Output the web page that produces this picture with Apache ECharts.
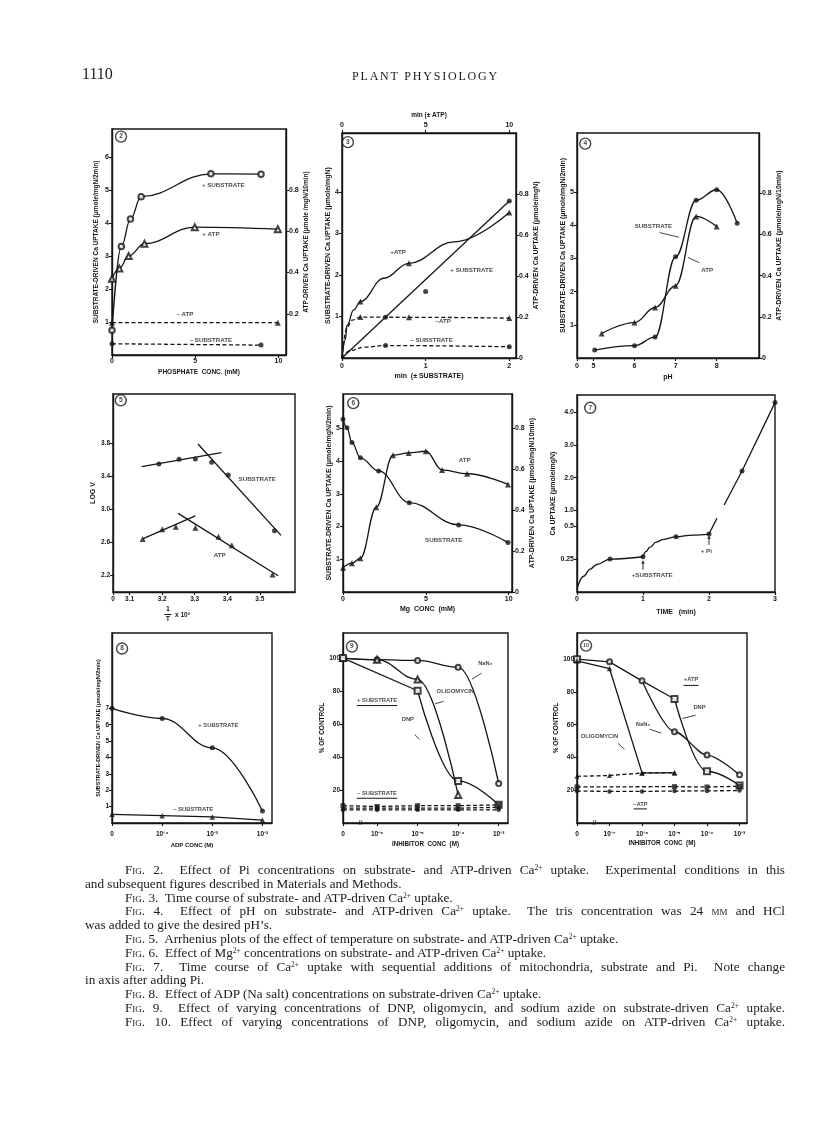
<!DOCTYPE html>
<html>
<head>
<meta charset="utf-8">
<title>Plant Physiology 1110 – Figs. 2–10</title>
<script src="https://cdn.jsdelivr.net/npm/echarts@6.0.0/dist/echarts.min.js"></script>
<style>
 html,body{margin:0;padding:0;background:#fff;}
 #page{position:relative;width:816px;height:1143px;overflow:hidden;background:#fff;}
 #chart{position:absolute;left:0;top:0;width:816px;height:1143px;}
 .serif{position:absolute;font-family:"Liberation Serif","DejaVu Serif",serif;color:#1a1a1a;white-space:nowrap;}
 #folio{left:82px;top:65px;font-size:16px;}
 #journal{left:0;width:851px;text-align:center;top:69px;font-size:12px;letter-spacing:1.8px;}
 .cl{position:absolute;left:85px;width:700px;font-family:"Liberation Serif","DejaVu Serif",serif;font-size:13.2px;line-height:13.8px;color:#1a1a1a;white-space:nowrap;}
 .cl.i{left:125px;width:660px;}
 .cl.j{white-space:normal;text-align:justify;text-align-last:justify;}
 .sc{font-variant:small-caps;}
 sup{font-size:7.5px;vertical-align:4px;line-height:0;}
</style>
</head>
<body>
<div id="page">
 <div id="chart"></div>
 <div id="folio" class="serif">1110</div>
 <div id="journal" class="serif">PLANT PHYSIOLOGY</div>
 <div id="captions"></div>
</div>
<script>
// ======================= DATA =======================
// Fig. 2 – Pi concentration (mM)
const f2PiSub      = [0, 0.56, 1.11, 1.75, 5.94, 8.95];
const f2SubPlus    = [0.75, 3.29, 4.12, 4.80, 5.49, 5.48];      // substrate-driven, μmole/mgN/2min
const f2PiAtp      = [0, 0.44, 1.0, 1.95, 4.97, 9.96];
const f2AtpPlus    = [0.37, 0.42, 0.48, 0.54, 0.62, 0.61];      // ATP-driven, μmole/mgN/10min
const f2PiAtpMinus = [0, 9.96];
const f2AtpMinus   = [0.157, 0.157];
const f2PiSubMinus = [0, 8.95];
const f2SubMinus   = [0.34, 0.30];
const f2XTicks = [0, 5, 10],            f2XLabels = ['0', '5', '10'];
const f2YTicks = [1, 2, 3, 4, 5, 6],    f2YLabels = ['1', '2', '3', '4', '5', '6'];
const f2Y2Ticks = [0.2, 0.4, 0.6, 0.8], f2Y2Labels = ['0.2', '0.4', '0.6', '0.8'];

// Fig. 3 – time course
const f3SubMin      = [0.52, 1.0, 2.0];
const f3SubPlus     = [0.98, 1.6, 3.78];
const f3SubFitMin   = [0, 2.0];
const f3SubFit      = [0, 3.78];
const f3AtpMin      = [1.1, 4.0, 10.0];
const f3AtpPlus     = [0.276, 0.463, 0.711];
const f3AtpCurveMin = [0, 0.2, 0.3, 0.7, 1.1, 2.5, 4.0, 6.7, 10.0];
const f3AtpCurve    = [0, 0.09, 0.16, 0.235, 0.276, 0.39, 0.463, 0.568, 0.711];
const f3AtpMinusMin = [1.1, 4.0, 10.0];
const f3AtpMinus    = [0.2, 0.199, 0.195];
const f3AtpMinusCurveMin = [0, 0.3, 0.6, 1.1, 4.0, 10.0];
const f3AtpMinusCurve    = [0, 0.15, 0.185, 0.2, 0.199, 0.195];
const f3SubMinusMin = [0.52, 2.0];
const f3SubMinus    = [0.30, 0.27];
const f3SubMinusCurveMin = [0, 0.1, 0.26, 0.52, 2.0];
const f3SubMinusCurve    = [0, 0.18, 0.26, 0.30, 0.27];
const f3XTicks = [0, 1, 2],  f3XLabels = ['0', '1', '2'];
const f3X2Ticks = [0, 5, 10], f3X2Labels = ['0', '5', '10'];
const f3YTicks = [1, 2, 3, 4], f3YLabels = ['1', '2', '3', '4'];
const f3Y2Ticks = [0, 0.2, 0.4, 0.6, 0.8], f3Y2Labels = ['0', '0.2', '0.4', '0.6', '0.8'];

// Fig. 4 – pH
const f4SubPH = [5.03, 6.0, 6.5, 7.0, 7.5, 8.0, 8.5];
const f4Sub   = [0.24, 0.37, 0.63, 3.05, 4.75, 5.07, 4.06];
const f4AtpPH = [5.2, 6.0, 6.5, 7.0, 7.5, 8.0];
const f4Atp   = [0.119, 0.172, 0.245, 0.351, 0.687, 0.638];
const f4XTicks = [4.6, 5, 6, 7, 8], f4XLabels = ['0', '5', '6', '7', '8'];
const f4YTicks = [1, 2, 3, 4, 5],   f4YLabels = ['1', '2', '3', '4', '5'];
const f4Y2Ticks = [0, 0.2, 0.4, 0.6, 0.8], f4Y2Labels = ['0', '0.2', '0.4', '0.6', '0.8'];

// Fig. 5 – Arrhenius (1/T x 10^3, log V)
const f5SubX = [3.19, 3.252, 3.302, 3.352, 3.403, 3.545];
const f5Sub  = [3.548, 3.605, 3.609, 3.568, 3.414, 2.736];
const f5SubFitA = [[3.137, 3.515], [3.382, 3.686]];
const f5SubFitB = [[3.31, 3.79], [3.565, 2.68]];
const f5AtpX = [3.14, 3.2, 3.242, 3.302, 3.373, 3.414, 3.539];
const f5Atp  = [2.638, 2.756, 2.785, 2.772, 2.663, 2.561, 2.204];
const f5AtpFitA = [[3.14, 2.638], [3.302, 2.918]];
const f5AtpFitB = [[3.249, 2.947], [3.556, 2.19]];
const f5XTicks = [3.049, 3.1, 3.2, 3.3, 3.4, 3.5], f5XLabels = ['0', '3.1', '3.2', '3.3', '3.4', '3.5'];
const f5YTicks = [2.2, 2.6, 3.0, 3.4, 3.8],        f5YLabels = ['2.2', '2.6', '3.0', '3.4', '3.8'];

// Fig. 6 – Mg conc (mM)
const f6SubMg = [0, 0.24, 0.54, 1.05, 2.15, 4.0, 6.98, 9.96];
const f6Sub   = [5.28, 5.02, 4.57, 4.10, 3.70, 2.73, 2.05, 1.51];
const f6AtpMg = [0, 0.54, 1.05, 2.01, 3.02, 3.96, 5.0, 5.98, 7.49, 9.96];
const f6Atp   = [0.118, 0.141, 0.165, 0.414, 0.669, 0.68, 0.688, 0.597, 0.578, 0.526];
const f6XTicks = [0, 5, 10], f6XLabels = ['0', '5', '10'];
const f6YTicks = [1, 2, 3, 4, 5], f6YLabels = ['1', '2', '3', '4', '5'];
const f6Y2Ticks = [0, 0.2, 0.4, 0.6, 0.8], f6Y2Labels = ['0', '0.2', '0.4', '0.6', '0.8'];

// Fig. 7 – time (min), Ca uptake (μmole/mgN); axis changes scale above 0.5
const f7PtT = [0.5, 1.0, 1.5, 2.0, 2.5, 3.0];
const f7PtV = [0.251, 0.269, 0.421, 0.442, 2.2, 4.3];
const f7CurveAT = [0, 0.1, 0.2, 0.3, 0.5, 1.0];
const f7CurveAV = [0.025, 0.12, 0.175, 0.21, 0.251, 0.269];
const f7CurveBT = [1.0, 1.05, 1.1, 1.2, 1.3, 1.5, 1.75, 2.0];
const f7CurveBV = [0.269, 0.31, 0.34, 0.38, 0.40, 0.421, 0.434, 0.442];
const f7CurveCT = [2.0, 2.12];
const f7CurveCV = [0.442, 0.75];
const f7CurveDT = [2.23, 2.5, 3.0];
const f7CurveDV = [1.16, 2.2, 4.3];
const f7XTicks = [0, 1, 2, 3], f7XLabels = ['0', '1', '2', '3'];
const f7YTicks = [0.25, 0.5, 1.0, 2.0, 3.0, 4.0], f7YLabels = ['0.25', '0.5', '1.0', '2.0', '3.0', '4.0'];

// Fig. 8 – ADP conc (M)
const f8Adp   = [0, 1e-4, 1e-3, 1e-2];
const f8Plus  = [7.0, 6.38, 4.59, 0.73];
const f8Minus = [0.53, 0.45, 0.37, 0.18];
const f8XTicks = [0, 1e-4, 1e-3, 1e-2], f8XLabels = ['0', '10⁻⁴', '10⁻³', '10⁻²'];
const f8YTicks = [1, 2, 3, 4, 5, 6, 7], f8YLabels = ['1', '2', '3', '4', '5', '6', '7'];

// Fig. 9 – inhibitor conc (M), % of control, + / – substrate
const f9Conc  = [0, 1e-6, 1e-5, 1e-4, 1e-3];
const f9NaN3  = [100, 99, 98.6, 94.5, 24];
const f9Oligo = [100, 99, 87, 17, null];
const f9Dnp   = [100, null, 80.2, 25.5, 11];
const f9MinusDnp   = [10.5, 10, 10.5, 10.5, 11];
const f9MinusOligo = [9, 9, 9, 9, 9.5];
const f9MinusNaN3  = [8, 8, 8, 8, 8];
const f9XTicks = [0, 1e-6, 1e-5, 1e-4, 1e-3], f9XLabels = ['0', '10⁻⁶', '10⁻⁵', '10⁻⁴', '10⁻³'];
const f9YTicks = [20, 40, 60, 80, 100], f9YLabels = ['20', '40', '60', '80', '100'];

// Fig. 10 – inhibitor conc (M), % of control, + / – ATP
const f10Conc  = [0, 1e-7, 1e-6, 1e-5, 1e-4, 1e-3];
const f10Dnp   = [100, 98.4, 86.8, 75.7, 31.6, 22.9];
const f10NaN3  = [100, 98.4, 86.8, 55.7, 41.5, 29.4];
const f10Oligo = [99, 94.3, 30.6, 30.6, null, null];
const f10MinusOligo = [28.5, 29, 30.5, 30.8, null, null];
const f10MinusDnp   = [22, null, null, 22.2, 22, 22.4];
const f10MinusNaN3  = [19.5, 19.3, 19.3, 19.5, 19.6, 19.8];
const f10XTicks = [0, 1e-7, 1e-6, 1e-5, 1e-4, 1e-3], f10XLabels = ['0', '10⁻⁷', '10⁻⁶', '10⁻⁵', '10⁻⁴', '10⁻³'];
const f10YTicks = [20, 40, 60, 80, 100], f10YLabels = ['20', '40', '60', '80', '100'];

// Captions
const captionLines = [
  ['ij', '<span class="sc">Fig.</span> 2.&nbsp; Effect of Pi concentrations on substrate- and ATP-driven Ca<sup>2+</sup> uptake.&nbsp; Experimental conditions in this'],
  ['',   'and subsequent figures described in Materials and Methods.'],
  ['i',  '<span class="sc">Fig.</span> 3.&nbsp; Time course of substrate- and ATP-driven Ca<sup>2+</sup> uptake.'],
  ['ij', '<span class="sc">Fig.</span> 4.&nbsp; Effect of pH on substrate- and ATP-driven Ca<sup>2+</sup> uptake.&nbsp; The tris concentration was 24 <span class="sc">mm</span> and HCl'],
  ['',   'was added to give the desired pH\u2019s.'],
  ['i',  '<span class="sc">Fig.</span> 5.&nbsp; Arrhenius plots of the effect of temperature on substrate- and ATP-driven Ca<sup>2+</sup> uptake.'],
  ['i',  '<span class="sc">Fig.</span> 6.&nbsp; Effect of Mg<sup>2+</sup> concentrations on substrate- and ATP-driven Ca<sup>2+</sup> uptake.'],
  ['ij', '<span class="sc">Fig.</span> 7.&nbsp; Time course of Ca<sup>2+</sup> uptake with sequential additions of mitochondria, substrate and Pi.&nbsp; Note change'],
  ['',   'in axis after adding Pi.'],
  ['i',  '<span class="sc">Fig.</span> 8.&nbsp; Effect of ADP (Na salt) concentrations on substrate-driven Ca<sup>2+</sup> uptake.'],
  ['ij', '<span class="sc">Fig.</span> 9.&nbsp; Effect of varying concentrations of DNP, oligomycin, and sodium azide on substrate-driven Ca<sup>2+</sup> uptake.'],
  ['ij', '<span class="sc">Fig.</span> 10. Effect of varying concentrations of DNP, oligomycin, and sodium azide on ATP-driven Ca<sup>2+</sup> uptake.']
];

// ======================= helpers =======================
const INK = '#151515';
const FONT = '"Liberation Sans", Arial, sans-serif';
const grids = [], xAxes = [], yAxes = [], series = [];

function zip(xs, ys, fx, fy) {
  const o = [];
  for (let i = 0; i < xs.length; i++) {
    if (xs[i] == null || ys[i] == null) continue;
    o.push([fx ? fx(xs[i]) : xs[i], fy ? fy(ys[i]) : ys[i]]);
  }
  return o;
}
function addGrid(b) {
  grids.push({left: b[0], top: b[1], width: b[2] - b[0], height: b[3] - b[1],
    show: true, borderColor: INK, borderWidth: 1.4, backgroundColor: 'transparent', containLabel: false});
  return grids.length - 1;
}
function addAxis(dim, g, o) {
  const isY = dim === 'y';
  const ticks = o.ticks || [];
  const labels = o.labels || [];
  const fmt = (v) => { const i = ticks.findIndex(t => Math.abs(t - v) < 1e-9 * Math.max(1, Math.abs(t))); return i >= 0 ? labels[i] : ''; };
  const a = {
    type: 'value', gridIndex: g, position: o.pos, min: o.min, max: o.max,
    axisLine: {show: true, onZero: false, lineStyle: {color: INK, width: 1.4}},
    axisTick: {show: ticks.length > 0, inside: false, length: 3, customValues: ticks, lineStyle: {color: INK, width: 1.1}},
    axisLabel: {show: ticks.length > 0, customValues: ticks, margin: o.margin != null ? o.margin : 3, formatter: fmt,
      color: INK, fontFamily: FONT, fontWeight: 'bold', fontSize: o.fs || 7},
    splitLine: {show: false},
    name: o.name || '', nameLocation: 'middle', nameGap: o.gap || 12, nameRotate: isY ? 90 : 0,
    nameTextStyle: {color: INK, fontFamily: FONT, fontWeight: 'bold', fontSize: o.nfs || 6.5}
  };
  const list = isY ? yAxes : xAxes;
  list.push(a);
  return list.length - 1;
}
function lineS(xi, yi, pts, o) {
  o = o || {};
  series.push({type: 'line', xAxisIndex: xi, yAxisIndex: yi, data: pts, symbol: 'none', showSymbol: false,
    smooth: o.smooth || false, smoothMonotone: o.smooth ? 'x' : undefined,
    lineStyle: {color: INK, width: o.w || 1.3, type: o.dash ? [4, 2.5] : 'solid'},
    silent: true, animation: false, z: 2, clip: false});
}
function markS(xi, yi, pts, sym, size) {
  const empty = sym.indexOf('empty') === 0;
  series.push({type: 'scatter', xAxisIndex: xi, yAxisIndex: yi, data: pts, symbol: sym, symbolSize: size || 5,
    itemStyle: {color: INK, borderColor: INK, borderWidth: empty ? 1.2 : 0},
    silent: true, animation: false, z: 4, clip: false});
}
function noteS(xi, yi, notes, fs) {
  series.push({type: 'scatter', xAxisIndex: xi, yAxisIndex: yi, symbolSize: 1, itemStyle: {color: 'rgba(0,0,0,0)'},
    data: notes.map(n => ({value: [n[1], n[2]], label: {show: true, position: 'inside', formatter: n[0],
      color: INK, fontFamily: FONT, fontWeight: 'bold', fontSize: n[3] || fs || 6.2}})),
    silent: true, animation: false, z: 5, clip: false});
}
function badge(xi, yi, num, x, y) {
  series.push({type: 'scatter', xAxisIndex: xi, yAxisIndex: yi, symbol: 'circle', symbolSize: 11, data: [[x, y]],
    itemStyle: {color: '#fff', borderColor: INK, borderWidth: 1.4},
    label: {show: true, position: 'inside', formatter: String(num), color: INK, fontFamily: FONT, fontWeight: 'bold', fontSize: num >= 10 ? 5.5 : 6.5},
    silent: true, animation: false, z: 6, clip: false});
}

// ======================= Fig. 2 =======================
{
  const g = addGrid([112, 129, 286, 355]);
  const x = addAxis('x', g, {pos: 'bottom', min: 0, max: 10.45, ticks: f2XTicks, labels: f2XLabels, name: 'PHOSPHATE  CONC. (mM)', gap: 14, margin: 3});
  const y = addAxis('y', g, {pos: 'left', min: 0, max: 6.85, ticks: f2YTicks, labels: f2YLabels, name: 'SUBSTRATE-DRIVEN Ca UPTAKE (μmole/mgN/2min)', gap: 12});
  const y2 = addAxis('y', g, {pos: 'right', min: 0, max: 1.096, ticks: f2Y2Ticks, labels: f2Y2Labels, name: 'ATP-DRIVEN Ca UPTAKE (μmole /mgN/10min)', gap: 15});
  lineS(x, y, zip(f2PiSub, f2SubPlus), {smooth: 0.4});
  markS(x, y, zip(f2PiSub, f2SubPlus), 'emptyCircle', 5.5);
  lineS(x, y2, zip(f2PiAtp, f2AtpPlus), {smooth: 0.4});
  markS(x, y2, zip(f2PiAtp, f2AtpPlus), 'emptyTriangle', 6);
  lineS(x, y2, zip(f2PiAtpMinus, f2AtpMinus), {dash: true});
  markS(x, y2, zip(f2PiAtpMinus, f2AtpMinus), 'triangle', 6);
  lineS(x, y, zip(f2PiSubMinus, f2SubMinus), {dash: true});
  markS(x, y, zip(f2PiSubMinus, f2SubMinus), 'circle', 5);
  noteS(x, y, [['+ SUBSTRATE', 6.68, 5.14], ['+ ATP', 5.94, 3.67], ['– ATP', 4.37, 1.23], ['– SUBSTRATE', 5.94, 0.45]]);
  badge(x, y, 2, 0.54, 6.62);
}
// ======================= Fig. 3 =======================
{
  const g = addGrid([342, 133, 516, 358]);
  const x = addAxis('x', g, {pos: 'bottom', min: 0, max: 2.08, ticks: f3XTicks, labels: f3XLabels, name: 'min  (± SUBSTRATE)', gap: 15, margin: 5, nfs: 7});
  const x2 = addAxis('x', g, {pos: 'top', min: 0, max: 10.4, ticks: f3X2Ticks, labels: f3X2Labels, name: 'min (± ATP)', gap: 14, margin: 4, nfs: 6.5});
  const y = addAxis('y', g, {pos: 'left', min: 0, max: 5.42, ticks: f3YTicks, labels: f3YLabels, name: 'SUBSTRATE-DRIVEN Ca UPTAKE (μmole/mgN)', gap: 10, nfs: 7});
  const y2 = addAxis('y', g, {pos: 'right', min: 0, max: 1.1, ticks: f3Y2Ticks, labels: f3Y2Labels, name: 'ATP-DRIVEN Ca UPTAKE (μmole/mgN)', gap: 15, nfs: 7});
  lineS(x, y, zip(f3SubFitMin, f3SubFit));
  markS(x, y, zip(f3SubMin, f3SubPlus), 'circle', 5);
  lineS(x2, y2, zip(f3AtpCurveMin, f3AtpCurve), {smooth: 0.4});
  markS(x2, y2, zip(f3AtpMin, f3AtpPlus), 'triangle', 6);
  lineS(x2, y2, zip(f3AtpMinusCurveMin, f3AtpMinusCurve), {smooth: 0.4, dash: true});
  markS(x2, y2, zip(f3AtpMinusMin, f3AtpMinus), 'triangle', 6);
  lineS(x, y, zip(f3SubMinusCurveMin, f3SubMinusCurve), {smooth: 0.4, dash: true});
  markS(x, y, zip(f3SubMinusMin, f3SubMinus), 'circle', 5);
  noteS(x, y, [['+ATP', 0.67, 2.54], ['+ SUBSTRATE', 1.55, 2.12], ['–ATP', 1.21, 0.88], ['– SUBSTRATE', 1.07, 0.42]]);
  badge(x, y, 3, 0.07, 5.2);
}
// ======================= Fig. 4 =======================
{
  const g = addGrid([577, 133, 759, 358]);
  const x = addAxis('x', g, {pos: 'bottom', min: 4.6, max: 9.03, ticks: f4XTicks, labels: f4XLabels, name: 'pH', gap: 16, margin: 5, nfs: 7});
  const y = addAxis('y', g, {pos: 'left', min: 0, max: 6.78, ticks: f4YTicks, labels: f4YLabels, name: 'SUBSTRATE-DRIVEN Ca UPTAKE (μmole/mgN/2min)', gap: 10, nfs: 7});
  const y2 = addAxis('y', g, {pos: 'right', min: 0, max: 1.092, ticks: f4Y2Ticks, labels: f4Y2Labels, name: 'ATP-DRIVEN Ca UPTAKE (μmole/mgN/10min)', gap: 15, nfs: 7});
  lineS(x, y, zip(f4SubPH, f4Sub), {smooth: 0.4});
  markS(x, y, zip(f4SubPH, f4Sub), 'circle', 5);
  lineS(x, y2, zip(f4AtpPH, f4Atp), {smooth: 0.4});
  markS(x, y2, zip(f4AtpPH, f4Atp), 'triangle', 6);
  noteS(x, y, [['SUBSTRATE', 6.46, 3.98], ['ATP', 7.77, 2.65]]);
  lineS(x, y, [[6.61, 3.78], [7.08, 3.64]], {w: 0.8});
  lineS(x, y, [[7.3, 3.03], [7.58, 2.87]], {w: 0.8});
  badge(x, y, 4, 4.8, 6.46);
}
// ======================= Fig. 5 =======================
{
  const g = addGrid([113, 394, 295, 592]);
  const x = addAxis('x', g, {pos: 'bottom', min: 3.049, max: 3.608, ticks: f5XTicks, labels: f5XLabels, margin: 4, fs: 6.5});
  const y = addAxis('y', g, {pos: 'left', min: 1.993, max: 4.397, ticks: f5YTicks, labels: f5YLabels, name: 'LOG V', gap: 16, fs: 6.5, nfs: 7});
  lineS(x, y, f5SubFitA); lineS(x, y, f5SubFitB);
  markS(x, y, zip(f5SubX, f5Sub), 'circle', 5);
  lineS(x, y, f5AtpFitA); lineS(x, y, f5AtpFitB);
  markS(x, y, zip(f5AtpX, f5Atp), 'triangle', 6);
  noteS(x, y, [['SUBSTRATE', 3.492, 3.365], ['ATP', 3.377, 2.44]]);
  badge(x, y, 5, 3.073, 4.32);
}
// ======================= Fig. 6 =======================
{
  const g = addGrid([343, 394, 512, 592]);
  const x = addAxis('x', g, {pos: 'bottom', min: 0, max: 10.2, ticks: f6XTicks, labels: f6XLabels, name: 'Mg  CONC  (mM)', gap: 14, margin: 4, nfs: 7});
  const y = addAxis('y', g, {pos: 'left', min: 0, max: 6.05, ticks: f6YTicks, labels: f6YLabels, name: 'SUBSTRATE-DRIVEN Ca UPTAKE (μmole/mgN/2min)', gap: 10, nfs: 7});
  const y2 = addAxis('y', g, {pos: 'right', min: 0, max: 0.968, ticks: f6Y2Ticks, labels: f6Y2Labels, name: 'ATP-DRIVEN Ca UPTAKE (μmole/mgN/10min)', gap: 15, nfs: 7});
  lineS(x, y, zip(f6SubMg, f6Sub), {smooth: 0.4});
  markS(x, y, zip(f6SubMg, f6Sub), 'circle', 5);
  lineS(x, y2, zip(f6AtpMg, f6Atp), {smooth: 0.4});
  markS(x, y2, zip(f6AtpMg, f6Atp), 'triangle', 6);
  noteS(x, y, [['ATP', 7.34, 4.03], ['SUBSTRATE', 6.08, 1.59]]);
  badge(x, y, 6, 0.62, 5.77);
}
// ======================= Fig. 7 (broken y scale above 0.5) =======================
{
  const f7u = v => v <= 0.5 ? v : 0.5 + (v - 0.5) * 0.2487;
  const g = addGrid([577, 395, 775, 592]);
  const x = addAxis('x', g, {pos: 'bottom', min: 0, max: 3.0, ticks: f7XTicks, labels: f7XLabels, name: 'TIME   (min)', gap: 17, margin: 4, nfs: 7});
  const y = addAxis('y', g, {pos: 'left', min: 0, max: 1.503, ticks: f7YTicks.map(f7u), labels: f7YLabels, name: 'Ca UPTAKE (μmole/mgN)', gap: 18, nfs: 7});
  lineS(x, y, zip(f7CurveAT, f7CurveAV, null, f7u), {smooth: 0.4});
  lineS(x, y, zip(f7CurveBT, f7CurveBV, null, f7u), {smooth: 0.4});
  lineS(x, y, zip(f7CurveCT, f7CurveCV, null, f7u));
  lineS(x, y, zip(f7CurveDT, f7CurveDV, null, f7u));
  markS(x, y, zip(f7PtT, f7PtV, null, f7u), 'circle', 5);
  lineS(x, y, [[1.0, f7u(0.17)], [1.0, f7u(0.234)]], {w: 0.9});
  lineS(x, y, [[2.0, f7u(0.36)], [2.0, f7u(0.424)]], {w: 0.9});
  markS(x, y, [[1.0, f7u(0.228)], [2.0, f7u(0.418)]], 'triangle', 3.5);
  noteS(x, y, [['+SUBSTRATE', 1.14, f7u(0.127)], ['+ Pi', 1.96, f7u(0.31)]]);
  badge(x, y, 7, 0.2, f7u(4.14));
}
// ======================= Fig. 8 =======================
{
  const p8 = c => c === 0 ? 0 : Math.log10(c) + 5;
  const g = addGrid([112, 633, 272, 823]);
  const x = addAxis('x', g, {pos: 'bottom', min: 0, max: 3.19, ticks: f8XTicks.map(p8), labels: f8XLabels, name: 'ADP CONC (M)', gap: 19, margin: 8, fs: 6.5, nfs: 6});
  const y = addAxis('y', g, {pos: 'left', min: 0, max: 11.6, ticks: f8YTicks, labels: f8YLabels, name: 'SUBSTRATE-DRIVEN Ca UPTAKE (μmole/mgN/2min)', gap: 9, fs: 6.5, nfs: 5.5});
  lineS(x, y, zip(f8Adp, f8Plus, p8), {smooth: 0.4});
  markS(x, y, zip(f8Adp, f8Plus, p8), 'circle', 5);
  lineS(x, y, zip(f8Adp, f8Minus, p8));
  markS(x, y, zip(f8Adp, f8Minus, p8), 'triangle', 5.5);
  noteS(x, y, [['+ SUBSTRATE', 2.12, 5.94], ['– SUBSTRATE', 1.62, 0.83]], 5.8);
  badge(x, y, 8, 0.2, 10.65);
}
// ======================= Fig. 9 =======================
{
  const p9 = c => c === 0 ? 0.16 : Math.log10(c) + 7;
  const g = addGrid([343, 633, 508, 823]);
  const x = addAxis('x', g, {pos: 'bottom', min: 0.16, max: 4.23, ticks: f9XTicks.map(p9), labels: f9XLabels, name: 'INHIBITOR  CONC  (M)', gap: 18, margin: 8, fs: 6.5, nfs: 6.3});
  const y = addAxis('y', g, {pos: 'left', min: 0, max: 115.2, ticks: f9YTicks, labels: f9YLabels, name: '% OF CONTROL', gap: 14, fs: 6.5, nfs: 6.5});
  lineS(x, y, zip(f9Conc, f9NaN3, p9), {smooth: 0.4});
  markS(x, y, zip(f9Conc, f9NaN3, p9), 'emptyCircle', 5);
  lineS(x, y, zip(f9Conc, f9Oligo, p9), {smooth: 0.4});
  markS(x, y, zip(f9Conc, f9Oligo, p9), 'emptyTriangle', 6);
  lineS(x, y, zip(f9Conc.slice(0, 3), f9Dnp.slice(0, 3), p9));
  lineS(x, y, zip(f9Conc.slice(2), f9Dnp.slice(2), p9), {smooth: 0.4});
  markS(x, y, zip(f9Conc, f9Dnp, p9), 'emptyRect', 6);
  lineS(x, y, zip(f9Conc, f9MinusDnp, p9), {dash: true});
  markS(x, y, zip(f9Conc, f9MinusDnp, p9), 'rect', 5);
  lineS(x, y, zip(f9Conc, f9MinusOligo, p9), {dash: true});
  markS(x, y, zip(f9Conc, f9MinusOligo, p9), 'triangle', 5);
  lineS(x, y, zip(f9Conc, f9MinusNaN3, p9), {dash: true});
  markS(x, y, zip(f9Conc, f9MinusNaN3, p9), 'circle', 4.5);
  noteS(x, y, [['NaN₃', 3.67, 96.9], ['OLIGOMYCIN', 2.93, 80.0], ['DNP', 1.76, 62.7], ['+ SUBSTRATE', 1.0, 74.5], ['– SUBSTRATE', 1.0, 18.2], ['//', 0.59, 0, 7]], 5.8);
  lineS(x, y, [[0.5, 71.2], [1.5, 71.2]], {w: 1});
  lineS(x, y, [[0.5, 15.0], [1.5, 15.0]], {w: 1});
  lineS(x, y, [[3.58, 90.9], [3.34, 87.2]], {w: 0.8});
  lineS(x, y, [[2.64, 73.8], [2.43, 72.2]], {w: 0.8});
  lineS(x, y, [[1.93, 53.6], [2.05, 50.7]], {w: 0.8});
  badge(x, y, 9, 0.38, 107);
}
// ======================= Fig. 10 =======================
{
  const p10 = c => c === 0 ? 0 : Math.log10(c) + 8;
  const g = addGrid([577, 633, 747, 823]);
  const x = addAxis('x', g, {pos: 'bottom', min: 0, max: 5.23, ticks: f10XTicks.map(p10), labels: f10XLabels, name: 'INHIBITOR  CONC  (M)', gap: 17, margin: 8, fs: 6.5, nfs: 6.3});
  const y = addAxis('y', g, {pos: 'left', min: 0, max: 116, ticks: f10YTicks, labels: f10YLabels, name: '% OF CONTROL', gap: 14, fs: 6.5, nfs: 6.5});
  lineS(x, y, zip(f10Conc.slice(0, 4), f10Dnp.slice(0, 4), p10));
  lineS(x, y, zip(f10Conc.slice(3), f10Dnp.slice(3), p10), {smooth: 0.4});
  markS(x, y, [0, 3, 4, 5].map(i => [p10(f10Conc[i]), f10Dnp[i]]), 'emptyRect', 6);
  lineS(x, y, zip(f10Conc.slice(2), f10NaN3.slice(2), p10), {smooth: 0.3});
  markS(x, y, zip(f10Conc.slice(1), f10NaN3.slice(1), p10), 'emptyCircle', 5);
  lineS(x, y, zip(f10Conc, f10Oligo, p10));
  markS(x, y, zip(f10Conc, f10Oligo, p10), 'triangle', 5.5);
  lineS(x, y, zip(f10Conc, f10MinusOligo, p10), {dash: true});
  markS(x, y, zip(f10Conc, f10MinusOligo, p10), 'triangle', 5);
  lineS(x, y, zip(f10Conc, f10MinusDnp, p10), {dash: true});
  markS(x, y, zip(f10Conc, f10MinusDnp, p10), 'rect', 5);
  lineS(x, y, zip(f10Conc, f10MinusNaN3, p10), {dash: true});
  markS(x, y, zip(f10Conc, f10MinusNaN3, p10), 'circle', 4.5);
  noteS(x, y, [['+ATP', 3.51, 87.5], ['DNP', 3.77, 70.4], ['NaN₃', 2.03, 60.3], ['OLIGOMYCIN', 0.69, 52.8], ['–ATP', 1.95, 11.6], ['//', 0.54, 0, 7]], 5.8);
  lineS(x, y, [[3.28, 84], [3.74, 84]], {w: 1});
  lineS(x, y, [[1.74, 8.6], [2.15, 8.6]], {w: 1});
  lineS(x, y, [[3.65, 65.8], [3.24, 63.8]], {w: 0.8});
  lineS(x, y, [[2.23, 57.3], [2.59, 54.9]], {w: 0.8});
  lineS(x, y, [[1.26, 48.6], [1.46, 45.1]], {w: 0.8});
  badge(x, y, 10, 0.28, 108.3);
}

// ======================= render =======================
const chart = echarts.init(document.getElementById('chart'), null, {renderer: 'canvas', width: 816, height: 1143});
chart.setOption({
  animation: false,
  backgroundColor: '#fff',
  textStyle: {fontFamily: FONT},
  grid: grids, xAxis: xAxes, yAxis: yAxes, series: series,
  graphic: [
    {type: 'text', style: {text: '1', x: 168, y: 609, align: 'center', verticalAlign: 'middle', font: 'bold 7px "Liberation Sans"', fill: INK}},
    {type: 'line', shape: {x1: 164.5, y1: 614.5, x2: 171.5, y2: 614.5}, style: {stroke: INK, lineWidth: 1}},
    {type: 'text', style: {text: 'T', x: 168, y: 619.5, align: 'center', verticalAlign: 'middle', font: 'bold 7px "Liberation Sans"', fill: INK}},
    {type: 'text', style: {text: 'x 10³', x: 175, y: 615, align: 'left', verticalAlign: 'middle', font: 'bold 6.5px "Liberation Sans"', fill: INK}}
  ]
});

// captions (page text)
const capBox = document.getElementById('captions');
captionLines.forEach((ln, i) => {
  const d = document.createElement('div');
  d.className = 'cl' + (ln[0].indexOf('i') >= 0 ? ' i' : '') + (ln[0].indexOf('j') >= 0 ? ' j' : '');
  d.style.top = (863 + i * 13.8) + 'px';
  d.innerHTML = ln[1];
  capBox.appendChild(d);
});
</script>
</body>
</html>
